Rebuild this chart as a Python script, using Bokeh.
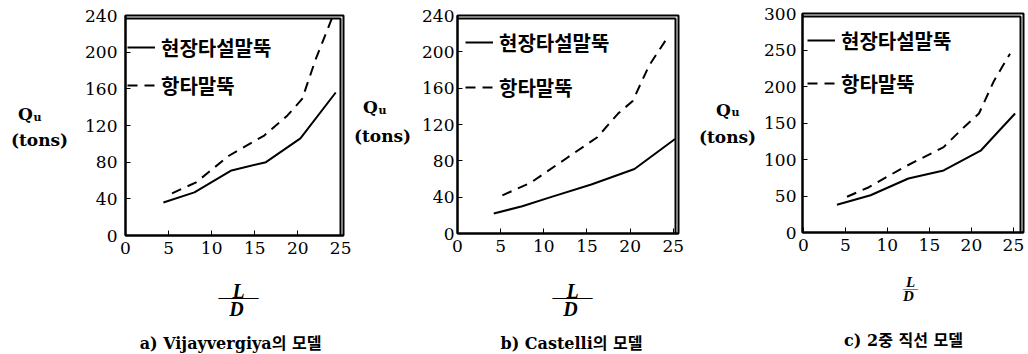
from bokeh.plotting import figure
from bokeh.models import Legend, LegendItem, FixedTicker, Range1d
from bokeh.layouts import row, column
from bokeh.embed import file_html
from bokeh.resources import INLINE
from bokeh.core.properties import value

# ---- data ----
SERIES = ["현장타설말뚝", "항타말뚝"]
X_TICKS = [0, 5, 10, 15, 20, 25]
Y_TICKS_AB = [0, 40, 80, 120, 160, 200, 240]
Y_TICKS_C = [0, 50, 100, 150, 200, 250, 300]
CAPTIONS = ["a) Vijayvergiya의 모델", "b) Castelli의 모델", "c) 2중 직선 모델"]
Y_LABEL = ["Q", "u", "(tons)"]
X_LABEL = ["L", "—", "D"]

a_cast_x = [4.4, 8.0, 12.3, 16.3, 20.3, 24.4]
a_cast_y = [36, 47, 71, 80, 106, 156]
a_drive_x = [5.4, 8.2, 12.0, 16.1, 18.8, 20.5, 22.1, 24.0]
a_drive_y = [46, 58, 87, 109, 131, 149, 193, 238]

b_cast_x = [4.2, 7.5, 10.8, 15.5, 20.5, 25.2]
b_cast_y = [22, 30, 40, 54, 71, 104]
b_drive_x = [5.2, 8.5, 12.8, 16.2, 18.6, 20.3, 22.2, 24.2]
b_drive_y = [42, 56, 84, 106, 132, 146, 185, 214]

c_cast_x = [4.0, 8.0, 12.5, 16.7, 21.1, 23.1, 25.2]
c_cast_y = [38, 51, 74, 85, 112, 137, 163]
c_drive_x = [5.2, 7.8, 11.9, 16.7, 18.9, 20.9, 22.7, 24.6]
c_drive_y = [49, 62, 89, 117, 142, 163, 208, 245]

SERIF = "DejaVu Serif"
CAP_FONT = "DejaVu Serif, Noto Sans CJK KR"
TOP_H = 262
TOTAL_H = 354


def text_fig(x0, width, y0, height):
    """Blank figure whose data coordinates equal page pixels (y down)."""
    f = figure(width=width, height=height, x_range=Range1d(x0, x0 + width),
               y_range=Range1d(y0 + height, y0), x_axis_type=None, y_axis_type=None,
               output_backend="svg", toolbar_location=None, min_border=0)
    f.grid.visible = False
    f.outline_line_color = None
    f.background_fill_alpha = 0
    f.border_fill_alpha = 0
    return f


def put(f, x, y, text, size, style="bold", font=SERIF, align="center", baseline="middle"):
    f.text(x=[x], y=[y], text=[text], text_font=value(font), text_font_size=size,
           text_font_style=style, text_color="black", text_align=align,
           text_baseline=baseline)


def plot(cfg):
    fh = cfg["fh"]
    fw = cfg["width"] - cfg["bl"] - cfg["br"]
    x0, x1 = cfg["xr"]
    y0, y1 = cfg["yr"]
    p = figure(width=cfg["width"], height=TOP_H,
               x_range=Range1d(x0, x1), y_range=Range1d(y0, y1),
               output_backend="svg", toolbar_location=None,
               min_border_left=cfg["bl"], min_border_right=cfg["br"],
               min_border_top=cfg["bt"], min_border_bottom=TOP_H - cfg["bt"] - fh)
    p.grid.visible = False
    p.outline_line_color = "black"
    p.outline_line_width = 2
    p.background_fill_alpha = 0
    p.border_fill_alpha = 0

    # top and right frame edges, drawn a little inside the plot's own range limits
    px = 3 * (x1 - x0) / fw
    py = 3 * (y1 - y0) / fh
    p.line(x=[x0, x1 - px, x1 - px], y=[y1 - py, y1 - py, y0],
           line_color="black", line_width=2)

    r1 = p.line(cfg["sx"], cfg["sy"], line_color="black", line_width=2)
    r2 = p.line(cfg["dx"], cfg["dy"], line_color="black", line_width=2, line_dash="10 7")

    for ax in (p.xaxis[0], p.yaxis[0]):
        ax.axis_line_width = 2
        ax.axis_line_color = "black"
        ax.major_tick_in = 5
        ax.major_tick_out = 0
        ax.minor_tick_in = 0
        ax.minor_tick_out = 0
        ax.major_tick_line_color = "black"
        ax.major_label_text_font = SERIF
        ax.major_label_text_font_size = "17px"
        ax.major_label_text_color = "black"
    p.xaxis[0].ticker = FixedTicker(ticks=X_TICKS)
    p.yaxis[0].ticker = FixedTicker(ticks=cfg["yticks"])
    p.xaxis[0].major_label_standoff = 6
    p.yaxis[0].major_label_standoff = cfg["ystand"]

    legend = Legend(items=[LegendItem(label=value(SERIES[0]), renderers=[r1]),
                           LegendItem(label=value(SERIES[1]), renderers=[r2])],
                    location=cfg["legloc"], margin=0, padding=5, spacing=cfg["legsp"],
                    glyph_height=30, label_height=30, glyph_width=28, label_standoff=6,
                    border_line_color=None, background_fill_alpha=0,
                    label_text_font="Noto Sans CJK KR", label_text_font_style="bold",
                    label_text_font_size="20px", label_text_color="black")
    p.add_layout(legend)
    return p


def panel(cfg):
    x0 = cfg["x0"]
    yw = cfg["yw"]
    yf = text_fig(x0, yw, 0, TOP_H)
    qx, qy = cfg["q"]
    put(yf, qx, qy, Y_LABEL[0], "17px")
    put(yf, qx + 12, qy + 4, Y_LABEL[1], "11px")
    tx, ty = cfg["tons"]
    put(yf, tx, ty, Y_LABEL[2], "17px")

    p = plot(cfg)

    bf = text_fig(x0, yw + cfg["width"], TOP_H, TOTAL_H - TOP_H)
    lx = cfg["ldx"]
    yL, yBar, yD = cfg["ldy"]
    fs = cfg["ldsize"]
    put(bf, lx, yL, X_LABEL[0], fs, style="bold italic", font="Liberation Serif", baseline="alphabetic")
    put(bf, lx, yBar, X_LABEL[1] * cfg["bars"], fs, style="normal", font="Liberation Serif", baseline="alphabetic")
    put(bf, lx - 2, yD, X_LABEL[2], fs, style="bold italic", font="Liberation Serif", baseline="alphabetic")
    cx, cy = cfg["cap"]
    put(bf, cx, cy, cfg["caption"], "16px", font=CAP_FONT)
    return column(row(yf, p, spacing=0), bf, spacing=0)


col_a = panel(dict(x0=0, yw=78, width=273, bl=47, br=8, bt=15, fh=220, xr=(0, 25.3), yr=(0, 240),
                   yticks=Y_TICKS_AB, ystand=8, sx=a_cast_x, sy=a_cast_y, dx=a_drive_x, dy=a_drive_y,
                   legloc=(2, 135), legsp=8, q=(25, 117), tons=(39, 148),
                   ldx=238, ldy=(290, 296, 308), ldsize="20px", bars=2,
                   cap=(230, 343), caption=CAPTIONS[0]))
col_b = panel(dict(x0=351, yw=66, width=278, bl=40, br=17, bt=15, fh=218, xr=(0, 25.6), yr=(0, 240),
                   yticks=Y_TICKS_AB, ystand=3, sx=b_cast_x, sy=b_cast_y, dx=b_drive_x, dy=b_drive_y,
                   legloc=(8, 131), legsp=15, q=(370, 110), tons=(382, 145),
                   ldx=572, ldy=(290, 296, 308), ldsize="20px", bars=2,
                   cap=(571, 343), caption=CAPTIONS[1]))
col_c = panel(dict(x0=695, yw=64, width=269, bl=43, br=5, bt=13, fh=219, xr=(-0.1, 26.2), yr=(0, 300),
                   yticks=Y_TICKS_C, ystand=6, sx=c_cast_x, sy=c_cast_y, dx=c_drive_x, dy=c_drive_y,
                   legloc=(5, 134), legsp=13, q=(723, 115), tons=(727, 148),
                   ldx=910, ldy=(281, 287, 295), ldsize="15px", bars=1,
                   cap=(903, 340), caption=CAPTIONS[2]))

layout = row(col_a, col_b, col_c, spacing=0)
open("out.html", "w").write(file_html(layout, INLINE))
